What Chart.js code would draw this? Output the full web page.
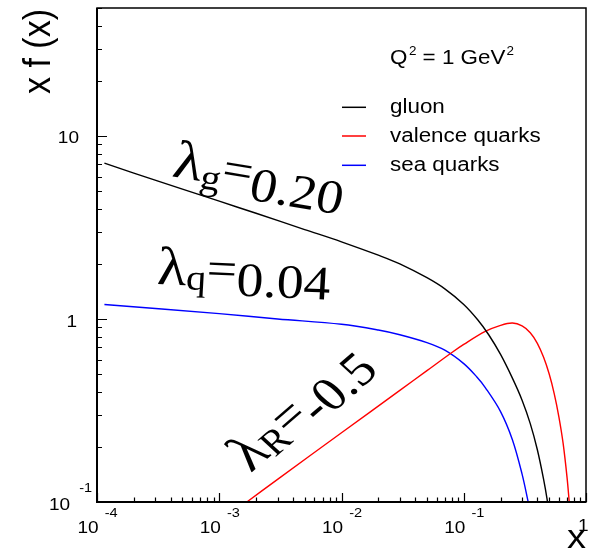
<!DOCTYPE html>
<html>
<head>
<meta charset="utf-8">
<script src="https://cdn.jsdelivr.net/npm/chart.js@4"></script>
<style>
  body { margin: 0; background: #fff; }
</style>
</head>
<body>
<canvas id="chart" width="595" height="549"></canvas>
<script>
// x f(x) at Q^2 = 1 GeV^2
const gluonX = [1.15e-4, 2e-4, 5e-4, 1e-3, 2e-3, 5e-3, 1e-2, 0.02, 0.03, 0.05, 0.07, 0.1, 0.13, 0.16, 0.2, 0.25, 0.3, 0.35, 0.4, 0.45, 0.48, 0.5];
const gluonY = [7.1, 6.27, 5.12, 4.40, 3.78, 3.08, 2.64, 2.23, 2.00, 1.68, 1.46, 1.20, 0.99, 0.82, 0.64, 0.475, 0.36, 0.268, 0.193, 0.133, 0.104, 0.085];

const valenceX = [1e-3, 1.68e-3, 3e-3, 1e-2, 0.03, 0.05, 0.08, 0.1, 0.15, 0.2, 0.25, 0.3, 0.35, 0.4, 0.45, 0.5, 0.55, 0.6, 0.65, 0.7, 0.73, 0.75];
const valenceY = [0.078, 0.1, 0.133, 0.239, 0.407, 0.522, 0.656, 0.726, 0.855, 0.923, 0.950, 0.916, 0.841, 0.736, 0.617, 0.500, 0.390, 0.292, 0.209, 0.136, 0.099, 0.079];

const seaX = [1.15e-4, 1e-3, 3e-3, 1e-2, 0.02, 0.03, 0.05, 0.07, 0.1, 0.128, 0.15, 0.2, 0.25, 0.3, 0.34, 0.36];
const seaY = [1.20, 1.07, 1.00, 0.935, 0.87, 0.82, 0.742, 0.675, 0.570, 0.482, 0.422, 0.312, 0.219, 0.142, 0.097, 0.082];

const seriesNames = ['gluon', 'valence quarks', 'sea quarks'];
const seriesColors = ['#000000', '#ff0000', '#0000ff'];

// tick labels: base and exponent, ROOT style
const xTickVals = [1e-4, 1e-3, 1e-2, 1e-1];
const xTickExp = ['-4', '-3', '-2', '-1'];
const X_MIN = 1e-4, X_MAX = 1, Y_MIN = 0.1, Y_MAX = 50;

const SX = 1.12; // the picture is a bit wider than tall
const SANS = '"Liberation Sans", Arial, sans-serif';
const SERIF = '"Liberation Serif", "Times New Roman", serif';

function toPoints(xs, ys) {
    return xs.map((x, i) => ({ x: x, y: ys[i] }));
}

// draw text stretched horizontally, returns the drawn width
function text(ctx, str, x, y, size, family, align) {
    ctx.save();
    ctx.font = size + 'px ' + family;
    const w = ctx.measureText(str).width * SX;
    let x0 = x;
    if (align === 'right') x0 = x - w;
    if (align === 'center') x0 = x - w / 2;
    ctx.translate(x0, y);
    ctx.scale(SX, 1);
    ctx.textAlign = 'left';
    ctx.textBaseline = 'alphabetic';
    ctx.fillText(str, 0, 0);
    ctx.restore();
    return w;
}

// latex-like label made of pieces, rotated by phi (visual angle)
function latex(ctx, parts, x, y, phiDeg) {
    const phi = phiDeg * Math.PI / 180;
    ctx.save();
    ctx.translate(x, y);
    ctx.scale(SX, 1);
    ctx.rotate(Math.atan(Math.tan(phi) * SX));
    ctx.textBaseline = 'alphabetic';
    let cx = 0;
    parts.forEach(p => {
        ctx.font = p.size + 'px ' + SERIF;
        ctx.fillText(p.t, cx, p.dy);
        cx += ctx.measureText(p.t).width;
    });
    ctx.restore();
}

const rootStyle = {
    id: 'rootStyle',
    afterDraw(chart) {
        const ctx = chart.ctx;
        const a = chart.chartArea;
        const xs = chart.scales.x;
        const ys = chart.scales.y;
        ctx.save();
        ctx.fillStyle = '#000';
        ctx.strokeStyle = '#000';

        // frame
        ctx.lineWidth = 1.5;
        ctx.strokeRect(a.left, a.top, a.right - a.left, a.bottom - a.top);
        ctx.lineWidth = 2;
        ctx.beginPath();
        ctx.moveTo(a.left, a.top);
        ctx.lineTo(a.left, a.bottom);
        ctx.lineTo(a.right, a.bottom);
        ctx.stroke();

        // ticks
        ctx.lineWidth = 1.2;
        ctx.beginPath();
        [0.1, 1, 10].forEach(d => {
            for (let k = 1; k <= 9; k++) {
                const v = k * d;
                if (v > Y_MAX) break;
                const py = Math.round(ys.getPixelForValue(v)) + 0.5;
                ctx.moveTo(a.left, py);
                ctx.lineTo(a.left + (k === 1 ? 10 : 5), py);
            }
        });
        [1e-4, 1e-3, 1e-2, 1e-1, 1].forEach(d => {
            for (let k = 1; k <= 9; k++) {
                const v = k * d;
                if (v > X_MAX) break;
                const px = Math.round(xs.getPixelForValue(v)) + 0.5;
                ctx.moveTo(px, a.bottom);
                ctx.lineTo(px, a.bottom - (k === 1 ? 9 : 4.5));
            }
        });
        ctx.stroke();

        // y tick labels
        text(ctx, '10', 79, ys.getPixelForValue(10) + 7, 17, SANS, 'right');
        text(ctx, '1', 77, ys.getPixelForValue(1) + 8, 17, SANS, 'right');
        const by = ys.getPixelForValue(Y_MIN);
        const w10 = text(ctx, '10', 49, by + 8, 17, SANS, 'left');
        text(ctx, '-1', 49 + w10 + 9, by - 10, 13, SANS, 'left');

        // x tick labels
        xTickVals.forEach((v, i) => {
            const px = xs.getPixelForValue(v);
            const w = text(ctx, '10', px - 19.5, 533, 17, SANS, 'left');
            text(ctx, xTickExp[i], px - 19.5 + w + 6, 517, 13, SANS, 'left');
        });
        text(ctx, '1', xs.getPixelForValue(X_MAX) - 8, 531, 17, SANS, 'left');

        // axis titles
        ctx.save();
        ctx.font = '34px ' + SANS;
        ctx.translate(50, 94);
        ctx.scale(SX, 1);
        ctx.rotate(-Math.PI / 2);
        ctx.fillText('x f (x)', 0, 0);
        ctx.restore();
        text(ctx, 'x', 567, 548, 34, SANS, 'left');

        // legend
        let lx = 390;
        lx += text(ctx, 'Q', lx, 64, 20, SANS, 'left');
        lx += text(ctx, '2', lx + 1.5, 55, 12, SANS, 'left') + 1.5;
        lx += text(ctx, ' = 1 GeV', lx, 64, 20, SANS, 'left');
        text(ctx, '2', lx + 1, 55, 12, SANS, 'left');
        const rows = [107.3, 136, 165.3];
        seriesNames.forEach((name, i) => {
            ctx.strokeStyle = seriesColors[i];
            ctx.lineWidth = 1.5;
            ctx.beginPath();
            ctx.moveTo(342, rows[i]);
            ctx.lineTo(366, rows[i]);
            ctx.stroke();
            text(ctx, name, 390, rows[i] + 6, 20, SANS, 'left');
        });

        // lambda annotations
        latex(ctx, [
            { t: 'λ', size: 54, dy: -10 },
            { t: 'g', size: 36, dy: -3 },
            { t: '=', size: 48, dy: -11 },
            { t: '0.20', size: 48, dy: 0 }
        ], 169, 186, 9.5);
        latex(ctx, [
            { t: 'λ', size: 54, dy: -8 },
            { t: 'q', size: 36, dy: -4 },
            { t: '=', size: 48, dy: -10 },
            { t: '0.04', size: 48, dy: 0 }
        ], 156, 292, 2.5);
        latex(ctx, [
            { t: 'λ', size: 54, dy: -8 },
            { t: 'R', size: 36, dy: -4 },
            { t: '=', size: 48, dy: -10 },
            { t: '-0.5', size: 48, dy: 0 }
        ], 257, 479, -41);

        ctx.restore();
    }
};

const seriesX = [gluonX, valenceX, seaX];
const seriesY = [gluonY, valenceY, seaY];

new Chart(document.getElementById('chart'), {
    type: 'line',
    data: {
        datasets: seriesNames.map((name, i) => ({
            label: name,
            data: toPoints(seriesX[i], seriesY[i]),
            borderColor: seriesColors[i],
            borderWidth: 1.4,
            pointRadius: 0,
            fill: false,
            tension: 0.35
        }))
    },
    options: {
        responsive: false,
        animation: false,
        layout: { padding: { top: 8, right: 9, left: 0, bottom: 0 } },
        plugins: { legend: { display: false }, tooltip: { enabled: false } },
        scales: {
            x: {
                type: 'logarithmic', min: X_MIN, max: X_MAX,
                ticks: { display: false }, grid: { display: false }, border: { display: false },
                afterFit(s) { s.height = 47; }
            },
            y: {
                type: 'logarithmic', min: Y_MIN, max: Y_MAX,
                ticks: { display: false }, grid: { display: false }, border: { display: false },
                afterFit(s) { s.width = 97; }
            }
        }
    },
    plugins: [rootStyle]
});
</script>
</body>
</html>
